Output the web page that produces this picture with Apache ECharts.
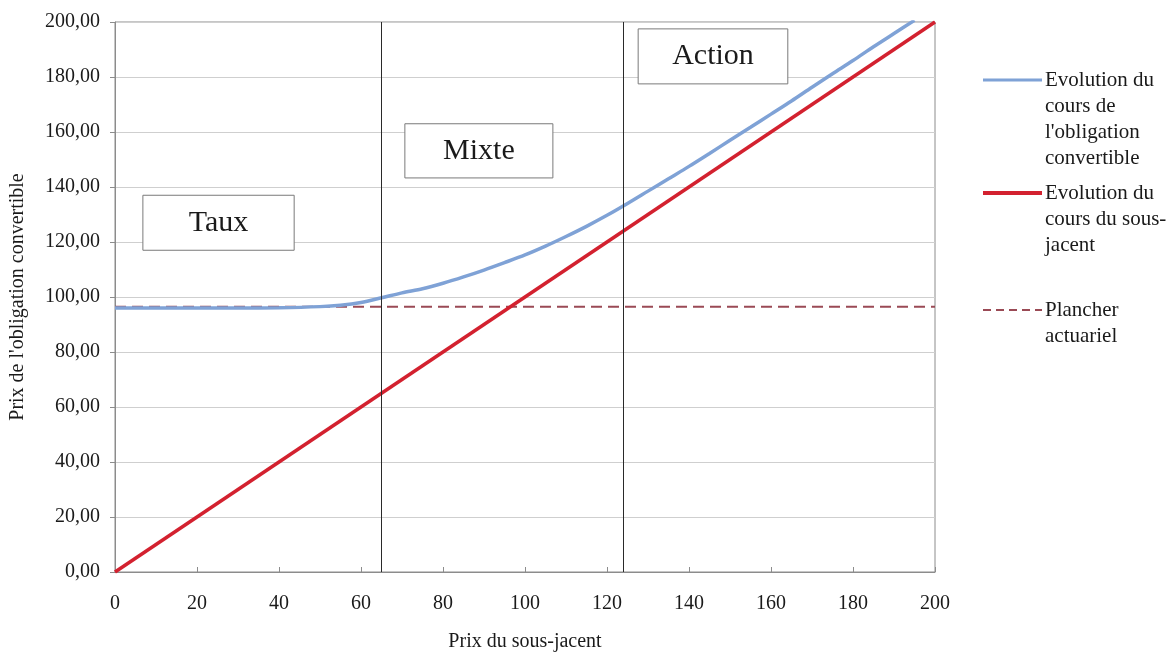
<!DOCTYPE html>
<html>
<head>
<meta charset="utf-8">
<script src="https://cdn.jsdelivr.net/npm/echarts@6/dist/echarts.min.js"></script>
<style>
  html, body { margin: 0; padding: 0; background: #fff; }
  #chart { width: 1169px; height: 653px; }
</style>
</head>
<body>
<div id="chart"></div>
<script>
// Prix du sous-jacent (axe horizontal) and matching convertible bond prices
const underlyingPrices = [0, 10, 20, 30, 40, 50, 55, 60, 65, 70, 75, 80, 85, 90, 95, 100,
  105, 110, 115, 120, 125, 130, 135, 140, 145, 150, 155, 160, 165, 170, 175, 180, 185, 190, 195];
const convertiblePrices = [96, 96, 96, 96, 96.1, 96.5, 97, 98, 99.7, 101.5, 103, 105, 107.3, 109.8, 112.5, 115.3,
  118.5, 122, 125.7, 129.7, 134, 138.5, 143, 147.5, 152.2, 157, 161.7, 166.5, 171.3, 176.3, 181.2, 186, 191, 195.8, 200.6];

// Sous-jacent: price equals itself
const underlyingLineX = [0, 200];
const underlyingLineY = [0, 200];

// Plancher actuariel (bond floor)
const floorX = [0, 200];
const floorValue = 96.5;

// Zone boundaries
const zoneBounds = [65, 124];
const zoneNames = ['Taux', 'Mixte', 'Action'];

const seriesNames = [
  'Evolution du cours de l\'obligation convertible',
  'Evolution du cours du sous-jacent',
  'Plancher actuariel'
];
const legendTexts = [
  'Evolution du\ncours de\nl\'obligation\nconvertible',
  'Evolution du\ncours du sous-\njacent',
  'Plancher\nactuariel'
];

const BLUE = '#7fa2d6';
const RED = '#d3212f';
const FLOOR = '#9a4a55';
const SERIF = '"Liberation Serif", "DejaVu Serif", serif';

const fmtY = v => v.toFixed(2).replace('.', ',');

const chart = echarts.init(document.getElementById('chart'));

const boxStyle = { color: '#ffffff', borderColor: '#7a7a7a', borderWidth: 1, opacity: 1 };
const boxLabel = { show: true, position: 'inside', fontFamily: SERIF, fontSize: 30, color: '#1a1a1a' };

chart.setOption({
  animation: false,
  backgroundColor: '#ffffff',
  grid: {
    left: 115, right: 234, top: 22, bottom: 81,
    containLabel: false, outerBoundsMode: 'none',
    show: true, borderColor: '#8c8c8c', borderWidth: 1
  },
  xAxis: {
    type: 'value', min: 0, max: 200, interval: 20,
    name: 'Prix du sous-jacent', nameLocation: 'middle', nameGap: 60,
    nameTextStyle: { fontFamily: SERIF, fontSize: 20, color: '#1a1a1a' },
    axisLine: { lineStyle: { color: '#8c8c8c', width: 1 } },
    axisTick: { inside: true, length: 5, lineStyle: { color: '#8c8c8c' } },
    axisLabel: { fontFamily: SERIF, fontSize: 20, color: '#1a1a1a', margin: 22 },
    splitLine: { show: false }
  },
  yAxis: {
    type: 'value', min: 0, max: 200, interval: 20,
    name: 'Prix de l\'obligation convertible', nameLocation: 'middle', nameGap: 87,
    nameTextStyle: { fontFamily: SERIF, fontSize: 20, color: '#1a1a1a' },
    axisLine: { show: true, lineStyle: { color: '#8c8c8c', width: 1 } },
    axisTick: { show: true, length: 5, lineStyle: { color: '#8c8c8c' } },
    axisLabel: { fontFamily: SERIF, fontSize: 20, color: '#1a1a1a', margin: 15, formatter: fmtY },
    splitLine: { show: true, lineStyle: { color: '#cfcfcf', width: 1 } }
  },
  series: [
    {
      name: seriesNames[2], type: 'line', symbol: 'none', z: 2,
      data: floorX.map(x => [x, floorValue]),
      lineStyle: { color: FLOOR, width: 2, type: [11, 6] }
    },
    {
      name: seriesNames[0], type: 'line', symbol: 'none', smooth: 0.3, z: 3,
      data: underlyingPrices.map((x, i) => [x, convertiblePrices[i]]),
      lineStyle: { color: BLUE, width: 3.5 },
      markArea: {
        silent: true,
        itemStyle: boxStyle,
        label: boxLabel,
        data: [
          [{ name: zoneNames[0], xAxis: 6.8, yAxis: 117 }, { xAxis: 43.7, yAxis: 137 }],
          [{ name: zoneNames[1], xAxis: 70.7, yAxis: 143.3 }, { xAxis: 106.8, yAxis: 163 }],
          [{ name: zoneNames[2], xAxis: 127.6, yAxis: 177.5 }, { xAxis: 164.1, yAxis: 197.5 }]
        ]
      }
    },
    {
      name: seriesNames[1], type: 'line', symbol: 'none', z: 4,
      data: underlyingLineX.map((x, i) => [x, underlyingLineY[i]]),
      lineStyle: { color: RED, width: 3.5 },
      markLine: {
        silent: true, symbol: 'none',
        label: { show: false },
        lineStyle: { color: '#2a2a2a', width: 1, type: 'solid' },
        data: zoneBounds.map(v => ({ xAxis: v }))
      }
    }
  ]
});

// Legend drawn at the right of the plot, icon level with the first text line
const legendItems = [
  { text: legendTexts[0], y: 80, style: { stroke: BLUE, lineWidth: 3 } },
  { text: legendTexts[1], y: 193, style: { stroke: RED, lineWidth: 4 } },
  { text: legendTexts[2], y: 310, style: { stroke: FLOOR, lineWidth: 2, lineDash: [8, 5] } }
];
const graphics = [];
legendItems.forEach(item => {
  graphics.push({
    type: 'line', shape: { x1: 983, y1: item.y, x2: 1042, y2: item.y }, style: item.style
  });
  graphics.push({
    type: 'text', x: 1045, y: item.y - 13,
    style: { text: item.text, fontFamily: SERIF, fontSize: 21, lineHeight: 26, fill: '#1a1a1a', verticalAlign: 'top' }
  });
});
chart.setOption({ graphic: graphics });
</script>
</body>
</html>
